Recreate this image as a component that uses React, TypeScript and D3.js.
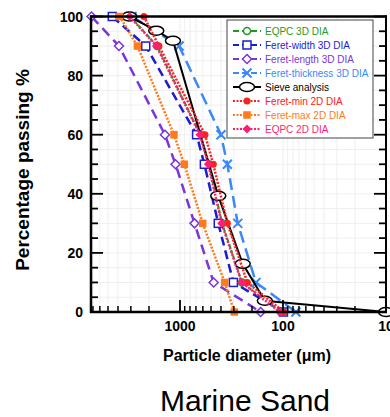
import React from "react";
import * as d3 from "d3";

// Percent passing levels used by the DIA series
const diaPercent = [100, 90, 60, 50, 30, 10, 0];
// Particle diameters (µm) at each level
const eqpc3D = [3040, 1670, 636, 525, 390, 250, 105];
const feretWidth3D = [4540, 2150, 690, 580, 425, 303, 99];
const feretLength3D = [7230, 3910, 1400, 1105, 723, 471, 165];
const feretThickness3D = [2920, 1020, 400, 347, 275, 183, 75];
const feretMin2D = [2240, 1600, 572, 475, 347, 222, 98];
const feretMax2D = [3850, 2590, 1144, 908, 602, 368, 297];
const eqpc2D = [3080, 1690, 640, 531, 394, 252, 107];
// Sieve analysis
const sieveSize = [3100, 1700, 1170, 425, 246, 150, 10];
const sievePercent = [100, 95.2, 91.8, 39.3, 16.3, 3.8, 0];

const xMajorTicks = [1000, 100, 10];
const yTicks = [0, 20, 40, 60, 80, 100];

type Marker = "circleOpen" | "squareOpen" | "diamondOpen" | "cross" | "ellipse" | "circle" | "square" | "diamond";
interface Series { name: string; color: string; dash: string | null; width: number; marker: Marker; xs: number[]; ys: number[]; }

const series: Series[] = [
  { name: "EQPC 3D DIA", color: "#1f9a1f", dash: "4,2", width: 2, marker: "circleOpen", xs: eqpc3D, ys: diaPercent },
  { name: "Feret-width 3D DIA", color: "#1c1cd0", dash: "9,5", width: 2.5, marker: "squareOpen", xs: feretWidth3D, ys: diaPercent },
  { name: "Feret-length 3D DIA", color: "#7a35dc", dash: "10,6", width: 2.5, marker: "diamondOpen", xs: feretLength3D, ys: diaPercent },
  { name: "Feret-thickness 3D DIA", color: "#3a88fa", dash: "12,6", width: 2.5, marker: "cross", xs: feretThickness3D, ys: diaPercent },
  { name: "Sieve analysis", color: "#000000", dash: null, width: 2, marker: "ellipse", xs: sieveSize, ys: sievePercent },
  { name: "Feret-min 2D DIA", color: "#ff2020", dash: "2,1.5", width: 2.5, marker: "circle", xs: feretMin2D, ys: diaPercent },
  { name: "Feret-max 2D DIA", color: "#ff7a1c", dash: "2,1.5", width: 2.5, marker: "square", xs: feretMax2D, ys: diaPercent },
  { name: "EQPC 2D DIA", color: "#ff1f72", dash: "2,1.5", width: 2.5, marker: "diamond", xs: eqpc2D, ys: diaPercent },
];

const FONT = "'Liberation Sans', Arial, Helvetica, sans-serif";

function MarkerShape({ type, x, y, color }: { type: Marker; x: number; y: number; color: string }) {
  switch (type) {
    case "circleOpen":
      return <circle cx={x} cy={y} r={3.5} fill="white" stroke={color} strokeWidth={1.5} />;
    case "squareOpen":
      return <rect x={x - 4} y={y - 4} width={8} height={8} fill="white" stroke={color} strokeWidth={1.5} />;
    case "diamondOpen":
      return <path d={`M${x},${y - 4.5}L${x + 4.5},${y}L${x},${y + 4.5}L${x - 4.5},${y}Z`} fill="white" stroke={color} strokeWidth={1.5} />;
    case "cross":
      return <path d={`M${x - 4.5},${y - 4.5}L${x + 4.5},${y + 4.5}M${x - 4.5},${y + 4.5}L${x + 4.5},${y - 4.5}`} stroke={color} strokeWidth={2} />;
    case "ellipse":
      return <ellipse cx={x} cy={y} rx={7.5} ry={4.5} fill="white" stroke={color} strokeWidth={1.5} />;
    case "circle":
      return <circle cx={x} cy={y} r={3.5} fill={color} />;
    case "square":
      return <rect x={x - 3.75} y={y - 3.75} width={7.5} height={7.5} fill={color} />;
    case "diamond":
      return <path d={`M${x},${y - 4.5}L${x + 4.5},${y}L${x},${y + 4.5}L${x - 4.5},${y}Z`} fill={color} />;
  }
  return null;
}

export default function App() {
  const left = 91, right = 386, top = 16.5, bottom = 312;
  const x = d3.scaleLog().domain([7311, 10]).range([left, right]);
  const y = d3.scaleLinear().domain([0, 100]).range([bottom, top]);

  // minor ticks for log axis
  const minorX: number[] = [];
  for (const dec of [10, 100, 1000]) {
    for (let k = 2; k <= 9; k++) {
      const v = dec * k;
      if (v <= 7311) minorX.push(v);
    }
  }
  const minorY = d3.range(0, 101, 5);

  const line = d3.line<[number, number]>().x((d) => x(d[0])).y((d) => y(d[1]));

  const legX = 227, legY = 20, legW = 146, legH = 118;

  return (
    <svg width={390} height={417} style={{ position: "absolute", left: 0, top: 0, background: "white" }} fontFamily={FONT}>
      {/* grid */}
      <g stroke="#efefef" strokeWidth={1}>
        {minorX.concat(xMajorTicks).map((v, i) => (
          <line key={"gx" + i} x1={x(v)} x2={x(v)} y1={top} y2={bottom} />
        ))}
        {minorY.map((v, i) => (
          <line key={"gy" + i} x1={left} x2={right} y1={y(v)} y2={y(v)} />
        ))}
      </g>

      {/* series */}
      {series.map((s, si) => {
        const pts: [number, number][] = s.xs.map((v, i) => [v, s.ys[i]]);
        return (
          <g key={"s" + si}>
            <path d={line(pts) || ""} fill="none" stroke={s.color} strokeWidth={s.width} strokeDasharray={s.dash || undefined} />
            {pts.map((p, i) => (
              <MarkerShape key={i} type={s.marker} x={x(p[0])} y={y(p[1])} color={s.color} />
            ))}
          </g>
        );
      })}

      {/* axes frame */}
      <g stroke="black" fill="none">
        <line x1={left} x2={left} y1={top - 1} y2={bottom + 1} strokeWidth={2.5} />
        <line x1={left - 1} x2={right + 1} y1={bottom} y2={bottom} strokeWidth={2.5} />
        <line x1={left - 1} x2={right + 1} y1={top} y2={top} strokeWidth={2.5} />
        <line x1={right} x2={right} y1={top - 1} y2={bottom + 1} strokeWidth={2} />
        {/* y ticks */}
        {minorY.map((v, i) => {
          const major = v % 20 === 0;
          const len = major ? 12 : 7;
          return (
            <g key={"yt" + i}>
              <line x1={left} x2={left + len} y1={y(v)} y2={y(v)} strokeWidth={1.8} />
              <line x1={right} x2={right - len} y1={y(v)} y2={y(v)} strokeWidth={1.8} />
            </g>
          );
        })}
        {/* x ticks */}
        {minorX.map((v, i) => (
          <line key={"xm" + i} x1={x(v)} x2={x(v)} y1={bottom} y2={bottom - 6} strokeWidth={1.5} />
        ))}
        {xMajorTicks.map((v, i) => (
          <line key={"xM" + i} x1={x(v)} x2={x(v)} y1={bottom} y2={bottom - 12} strokeWidth={1.8} />
        ))}
      </g>

      {/* y tick labels */}
      {yTicks.map((v) => (
        <text key={"yl" + v} x={83} y={y(v)} dy="0.36em" textAnchor="end" fontSize={14} fontWeight="bold" fill="black">
          {v}
        </text>
      ))}
      {/* x tick labels */}
      {xMajorTicks.map((v) => (
        <text key={"xl" + v} x={x(v)} y={331} textAnchor="middle" fontSize={14} fontWeight="bold" fill="black">
          {v}
        </text>
      ))}

      {/* axis titles */}
      <text x={247} y={361} textAnchor="middle" fontSize={16} fontWeight="bold" fill="black">
        Particle diameter (μm)
      </text>
      <text transform="translate(29,170) rotate(-90)" textAnchor="middle" fontSize={19} fontWeight="bold" fill="black">
        Percentage passing %
      </text>
      <text x={245} y={411} textAnchor="middle" fontSize={30} fill="black">
        Marine Sand
      </text>

      {/* legend */}
      <rect x={legX} y={legY} width={legW} height={legH} fill="white" stroke="#444" strokeWidth={1} />
      {series.map((s, i) => {
        const ly = 31 + i * 14;
        return (
          <g key={"lg" + i}>
            <line x1={233} x2={261} y1={ly} y2={ly} stroke={s.color} strokeWidth={2} strokeDasharray={s.dash ? (s.dash === "2,1.5" ? "2,1.5" : "6,3") : undefined} />
            <MarkerShape type={s.marker} x={247} y={ly} color={s.color} />
            <text x={265} y={ly} dy="0.35em" fontSize={10} fill={s.color}>
              {s.name}
            </text>
          </g>
        );
      })}
    </svg>
  );
}
